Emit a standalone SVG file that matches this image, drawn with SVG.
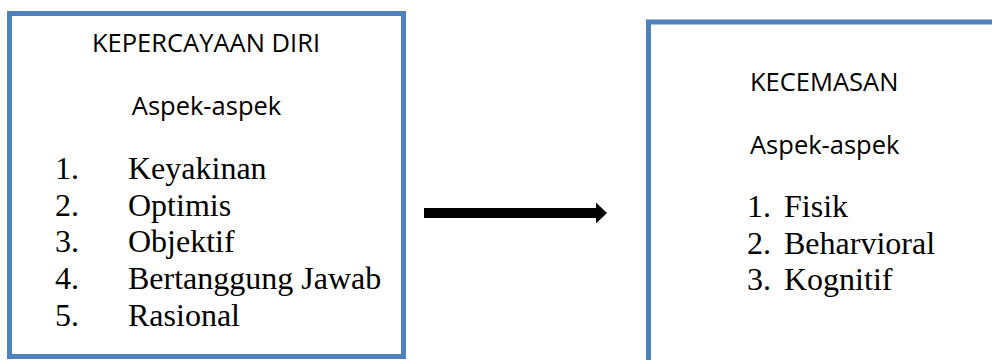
<svg xmlns="http://www.w3.org/2000/svg" width="992" height="360" viewBox="0 0 992 360">
  <style>
    .box { fill: #ffffff; stroke: #4f81bd; stroke-width: 5; }
    .head { font-family: "Open Sans", "Liberation Sans", sans-serif; font-size: 25.5px; fill: #000000; }
    .item { font-family: "Liberation Serif", "Times New Roman", serif; font-size: 32px; fill: #000000; }
  </style>
  <rect width="992" height="360" fill="#ffffff"/>

  <g id="kepercayaan-diri">
    <rect class="box" x="9.5" y="13.5" width="394" height="343"/>
    <text class="head" x="206" y="52" text-anchor="middle">KEPERCAYAAN DIRI</text>
    <text class="head" x="206.5" y="115" text-anchor="middle">Aspek-aspek</text>
    <text class="item" x="55" y="179">1.</text>
    <text class="item" x="128" y="179">Keyakinan</text>
    <text class="item" x="55" y="215.5">2.</text>
    <text class="item" x="128" y="215.5">Optimis</text>
    <text class="item" x="55" y="252">3.</text>
    <text class="item" x="128" y="252">Objektif</text>
    <text class="item" x="55" y="289">4.</text>
    <text class="item" x="128" y="289">Bertanggung Jawab</text>
    <text class="item" x="55" y="325.5">5.</text>
    <text class="item" x="128" y="325.5">Rasional</text>
  </g>

  <g id="kecemasan">
    <rect class="box" x="648.5" y="22" width="360" height="360"/>
    <text class="head" x="750" y="91">KECEMASAN</text>
    <text class="head" x="750" y="154">Aspek-aspek</text>
    <text class="item" x="747" y="217">1.</text>
    <text class="item" x="784" y="217">Fisik</text>
    <text class="item" x="747" y="253.5">2.</text>
    <text class="item" x="784" y="253.5">Beharvioral</text>
    <text class="item" x="747" y="290">3.</text>
    <text class="item" x="784" y="290">Kognitif</text>
  </g>

  <g id="connectors">
    <path d="M424 208 H596 V202.5 L607 213 L596 223.5 V218 H424 Z" fill="#000000"/>
  </g>
</svg>
